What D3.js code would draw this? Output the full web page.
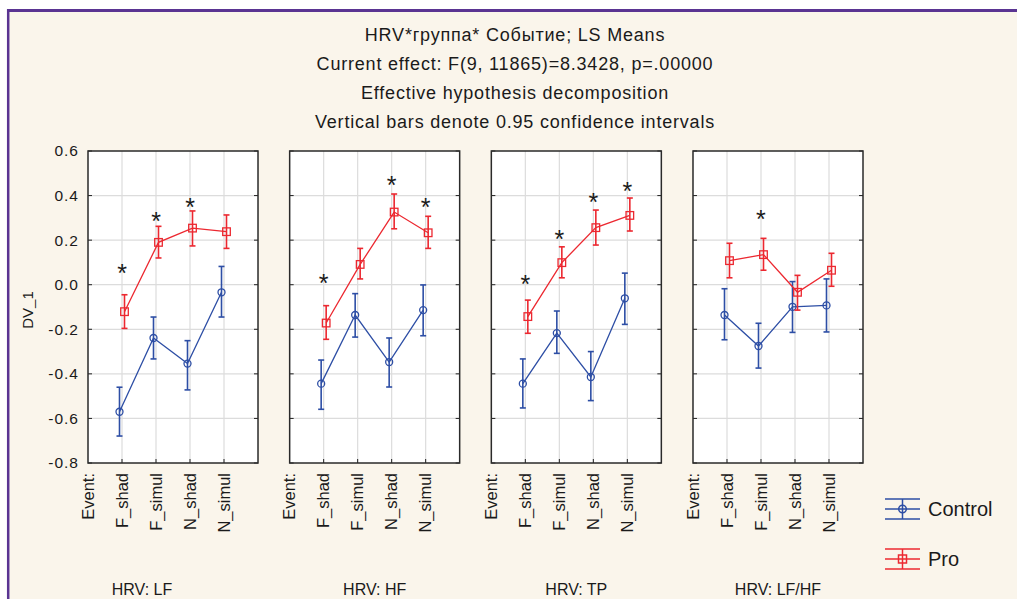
<!DOCTYPE html>
<html>
<head>
<meta charset="utf-8">
<script src="https://cdn.jsdelivr.net/npm/d3@7"></script>
<style>
  body { margin: 0; background: #fff; }
  svg { display: block; font-family: "Liberation Sans", Arial, sans-serif; }
</style>
</head>
<body>
<svg id="chart" width="1017" height="599"></svg>
<script>
var categories = ["F_shad", "F_simul", "N_shad", "N_simul"];
var panels = ["HRV: LF", "HRV: HF", "HRV: TP", "HRV: LF/HF"];
var yTicks = [0.6, 0.4, 0.2, 0.0, -0.2, -0.4, -0.6, -0.8];
var titleLines = [
    "HRV*группа* Событие; LS Means",
    "Current effect: F(9, 11865)=8.3428, p=.00000",
    "Effective hypothesis decomposition",
    "Vertical bars denote 0.95 confidence intervals"
];

// Control group: means and 0.95 CI per panel
var controlMean = [
    [-0.570, -0.239, -0.354, -0.034],
    [-0.444, -0.136, -0.347, -0.114],
    [-0.444, -0.217, -0.414, -0.061],
    [-0.136, -0.275, -0.099, -0.093]
];
var controlHi = [
    [-0.460, -0.145, -0.251, 0.082],
    [-0.338, -0.040, -0.239, -0.001],
    [-0.333, -0.118, -0.300, 0.052],
    [-0.018, -0.173, 0.014, 0.026]
];
var controlLo = [
    [-0.679, -0.333, -0.472, -0.145],
    [-0.559, -0.235, -0.459, -0.229],
    [-0.553, -0.308, -0.520, -0.178],
    [-0.247, -0.374, -0.214, -0.212]
];

// Pro group
var proMean = [
    [-0.121, 0.190, 0.254, 0.238],
    [-0.172, 0.091, 0.326, 0.233],
    [-0.143, 0.099, 0.256, 0.311],
    [0.108, 0.135, -0.034, 0.065]
];
var proHi = [
    [-0.045, 0.262, 0.331, 0.313],
    [-0.094, 0.163, 0.407, 0.307],
    [-0.069, 0.170, 0.335, 0.389],
    [0.186, 0.208, 0.042, 0.141]
];
var proLo = [
    [-0.196, 0.120, 0.174, 0.163],
    [-0.245, 0.026, 0.251, 0.163],
    [-0.218, 0.031, 0.178, 0.241],
    [0.031, 0.065, -0.114, -0.007]
];

// significance stars (value where the * sits, null = none)
var stars = [
    [0.075, 0.308, 0.368, null],
    [0.029, null, 0.467, 0.368],
    [0.024, 0.227, 0.390, 0.440],
    [null, 0.313, null, null]
];

var series = [
    { name: "Control", color: "#2d4ea5", mean: controlMean, lo: controlLo, hi: controlHi, marker: "circle", dx: -2.5 },
    { name: "Pro", color: "#ec2830", mean: proMean, lo: proLo, hi: proHi, marker: "square", dx: 2.5 }
];

var svg = d3.select("#chart");

// frame
svg.append("rect").attr("x", 9).attr("y", 12).attr("width", 1017).attr("height", 599).attr("fill", "#faf5eb");
svg.append("line").attr("x1", 7).attr("x2", 1017).attr("y1", 10.5).attr("y2", 10.5)
    .attr("stroke", "#5a3492").attr("stroke-width", 3);
svg.append("line").attr("x1", 8.2).attr("x2", 8.2).attr("y1", 9).attr("y2", 599)
    .attr("stroke", "#5a3492").attr("stroke-width", 2.5);

// title
svg.selectAll("text.title").data(titleLines).enter().append("text")
    .attr("class", "title")
    .attr("x", 515).attr("y", function (d, i) { return 41 + i * 29; })
    .attr("text-anchor", "middle")
    .attr("font-size", 18)
    .attr("letter-spacing", 0.8)
    .attr("fill", "#1a1a1a")
    .text(function (d) { return d; });

var panelX = d3.scaleBand().domain(panels).range([88, 863]).paddingInner(0.157);
var pw = panelX.bandwidth();
var y = d3.scaleLinear().domain([-0.8, 0.6]).range([463, 151]);
var x = d3.scaleLinear().domain([0, categories.length + 1]).range([0, pw]);
var fmt = function (v) { return d3.format(".1f")(v).replace("\u2212", "-"); };

// y axis labels
svg.selectAll("text.ytick").data(yTicks).enter().append("text")
    .attr("class", "ytick")
    .attr("x", 79).attr("y", function (d) { return y(d); })
    .attr("dy", "0.35em")
    .attr("text-anchor", "end")
    .attr("font-size", 15.5)
    .attr("letter-spacing", 1)
    .attr("fill", "#1a1a1a")
    .text(fmt);

svg.append("text")
    .attr("transform", "translate(33,310) rotate(-90)")
    .attr("text-anchor", "middle")
    .attr("font-size", 15)
    .attr("fill", "#1a1a1a")
    .text("DV_1");

panels.forEach(function (p, pi) {
    var g = svg.append("g").attr("transform", "translate(" + panelX(p) + ",0)");

    g.append("rect").attr("x", 0).attr("y", 151).attr("width", pw).attr("height", 312).attr("fill", "#fff");

    // grid
    g.selectAll("line.hg").data(yTicks.slice(1, -1)).enter().append("line")
        .attr("x1", 0).attr("x2", pw)
        .attr("y1", function (d) { return y(d); }).attr("y2", function (d) { return y(d); })
        .attr("stroke", "#dcdcdc").attr("stroke-width", 1.2);
    g.selectAll("line.vg").data(categories).enter().append("line")
        .attr("x1", function (d, i) { return x(i + 1); }).attr("x2", function (d, i) { return x(i + 1); })
        .attr("y1", 151).attr("y2", 463)
        .attr("stroke", "#dcdcdc").attr("stroke-width", 1.2);

    // inward ticks
    g.selectAll("line.tl").data(yTicks).enter().append("line")
        .attr("x1", 0).attr("x2", 4)
        .attr("y1", function (d) { return y(d); }).attr("y2", function (d) { return y(d); })
        .attr("stroke", "#222");
    g.selectAll("line.tr").data(yTicks).enter().append("line")
        .attr("x1", pw - 4).attr("x2", pw)
        .attr("y1", function (d) { return y(d); }).attr("y2", function (d) { return y(d); })
        .attr("stroke", "#222");
    g.selectAll("line.tb").data(categories).enter().append("line")
        .attr("x1", function (d, i) { return x(i + 1); }).attr("x2", function (d, i) { return x(i + 1); })
        .attr("y1", 459).attr("y2", 463)
        .attr("stroke", "#222");

    g.append("rect").attr("x", 0).attr("y", 151).attr("width", pw).attr("height", 312)
        .attr("fill", "none").attr("stroke", "#2a2a2a").attr("stroke-width", 1.5);

    // series
    series.forEach(function (s) {
        var pts = categories.map(function (c, i) {
            return { x: x(i + 1) + s.dx, m: s.mean[pi][i], lo: s.lo[pi][i], hi: s.hi[pi][i] };
        });
        g.append("path").datum(pts)
            .attr("fill", "none").attr("stroke", s.color).attr("stroke-width", 1.3)
            .attr("d", d3.line().x(function (d) { return d.x; }).y(function (d) { return y(d.m); }));
        var eb = g.selectAll(null).data(pts).enter().append("g").attr("stroke", s.color).attr("stroke-width", 1.6);
        eb.append("line").attr("x1", function (d) { return d.x; }).attr("x2", function (d) { return d.x; })
            .attr("y1", function (d) { return y(d.lo); }).attr("y2", function (d) { return y(d.hi); });
        eb.append("line").attr("x1", function (d) { return d.x - 3; }).attr("x2", function (d) { return d.x + 3; })
            .attr("y1", function (d) { return y(d.lo); }).attr("y2", function (d) { return y(d.lo); });
        eb.append("line").attr("x1", function (d) { return d.x - 3; }).attr("x2", function (d) { return d.x + 3; })
            .attr("y1", function (d) { return y(d.hi); }).attr("y2", function (d) { return y(d.hi); });
        if (s.marker === "circle") {
            eb.append("circle").attr("cx", function (d) { return d.x; }).attr("cy", function (d) { return y(d.m); })
                .attr("r", 3.5).attr("fill", "none").attr("stroke-width", 1.3);
        } else {
            eb.append("rect").attr("x", function (d) { return d.x - 3.8; }).attr("y", function (d) { return y(d.m) - 3.8; })
                .attr("width", 7.6).attr("height", 7.6).attr("fill", "none").attr("stroke-width", 1.3);
        }
    });

    // stars
    g.selectAll("text.star").data(stars[pi].map(function (v, i) { return { v: v, i: i }; })
            .filter(function (d) { return d.v !== null; }))
        .enter().append("text")
        .attr("x", function (d) { return x(d.i + 1); })
        .attr("y", function (d) { return y(d.v) + 13.5; })
        .attr("text-anchor", "middle")
        .attr("font-size", 25)
        .attr("fill", "#1a1a1a")
        .text("*");

    // category labels
    var labels = ["Event:"].concat(categories);
    g.selectAll("text.cat").data(labels).enter().append("text")
        .attr("transform", function (d, i) { return "translate(" + x(i) + ",473) rotate(-90)"; })
        .attr("dy", "0.35em")
        .attr("text-anchor", "end")
        .attr("font-size", 16.5)
        .attr("fill", "#1a1a1a")
        .text(function (d) { return d; });

    g.append("text")
        .attr("x", pw / 2 - (pi === 0 ? 31 : 0)).attr("y", 595)
        .attr("text-anchor", "middle")
        .attr("font-size", 16)
        .attr("fill", "#1a1a1a")
        .text(p);
});

// legend
var lg = svg.selectAll("g.leg").data(series).enter().append("g")
    .attr("transform", function (d, i) { return "translate(885," + (509 + i * 50) + ")"; })
    .attr("stroke", function (d) { return d.color; }).attr("stroke-width", 1.5);
[-10, 0, 10].forEach(function (dy) {
    lg.append("line").attr("x1", 0).attr("x2", 35).attr("y1", dy).attr("y2", dy);
});
lg.append("line").attr("x1", 17.5).attr("x2", 17.5).attr("y1", -10).attr("y2", 10);
lg.each(function (d) {
    var el = d3.select(this);
    if (d.marker === "circle") {
        el.append("circle").attr("cx", 17.5).attr("cy", 0).attr("r", 3.8).attr("fill", "none");
    } else {
        el.append("rect").attr("x", 13.5).attr("y", -4).attr("width", 8).attr("height", 8).attr("fill", "none");
    }
});
lg.append("text").attr("x", 43).attr("y", 0).attr("dy", "0.36em")
    .attr("stroke", "none").attr("fill", "#1a1a1a").attr("font-size", 20)
    .text(function (d) { return d.name; });
</script>
</body>
</html>
